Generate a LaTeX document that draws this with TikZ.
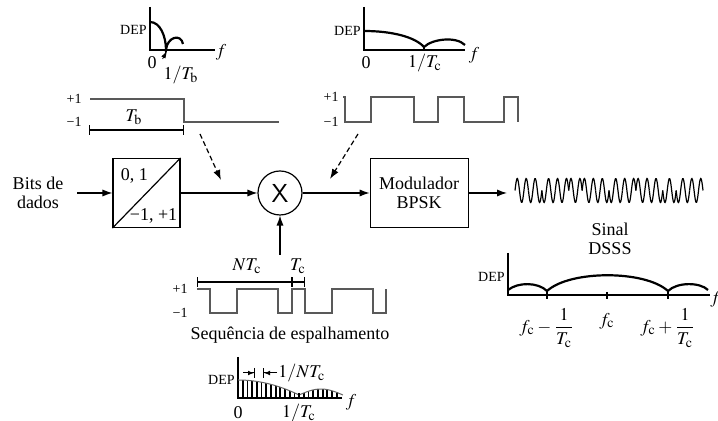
\documentclass[tikz,border=0pt]{standalone}
\usepackage{mathptmx}
\usepackage{fontspec}
\setmainfont{Liberation Serif}
\usetikzlibrary{arrows.meta, positioning}

\begin{document}
\begin{tikzpicture}[
    x=0.5pt, y=-0.5pt,
    font=\fontsize{9}{9.5}\selectfont,
    declare function={env(\t)=(\t<1) ? (3+15*(1-\t*\t)) : (3+6*sin(250*(\t-1)));},
    blk/.style={rectangle, draw, line width=0.6pt, minimum width=49pt,
                minimum height=34.5pt, align=center},
    arrow/.style={-{Latex[length=5pt,width=3.6pt]}, line width=0.6pt},
    dasharrow/.style={arrow, dash pattern=on 2.5pt off 1.5pt},
    tiparrow/.style={-{Latex[length=3pt,width=2.4pt]}, line width=0.4pt},
    gaparrow/.style={-{Latex[length=3pt,width=2.4pt]Bar[width=5pt]}, line width=0.5pt},
    axis/.style={line width=0.6pt},
    psd/.style={line width=1.1pt},
    wavef/.style={line width=0.6pt, black!65},
    brk/.style={{Bar[width=5pt]}-{Bar[width=5pt]}, line width=0.6pt},
    lvl/.style={anchor=east, font=\fontsize{7}{7}\selectfont, inner sep=1pt},
    dep/.style={anchor=east, font=\fontsize{7}{7}\selectfont, inner sep=1pt}
  ]
    \useasboundingbox (0,0) rectangle (718,421);

    % espectro dos bits
    \draw[axis] (150,7) -- (150,50) -- (215,50);
    \draw[psd] (150,22) .. controls (160,22) and (166,36) .. (166,50)
               .. controls (167,37) and (181,33) .. (183,44);
    \node[dep] (dep1) at (149,30) {DEP};
    \node (f1) at (221,52) {$f$};
    \node (zero1) at (152,63) {0};
    \node (tb1) at (181,75) {$1/T_\mathrm{b}$};
    \coordinate (tbcusp) at (166,52);
    \draw[tiparrow] ([xshift=3pt]tb1.north west) -- (tbcusp);

    % forma de onda dos bits
    \node[lvl] (p1a) at (84,99) {+1};
    \node[lvl] (m1a) at (84,122) {−1};
    \draw[wavef] (90,99) -- (184,99) -- (184,122) -- (279,122);
    \draw[brk] (89,130) -- (184,130);
    \node (tb) at (134,117) {$T_\mathrm{b}$};
    \coordinate (bd0) at (200,134);
    \coordinate (bd1) at (221,180);
    \draw[dasharrow] (bd0) -- (bd1);

    % espectro dos chips
    \draw[axis] (364,7) -- (364,50) -- (465,50);
    \draw[psd] (364,31) .. controls (392,31) and (415,37) .. (424,47)
               .. controls (432,39) and (456,36) .. (465,45);
    \draw[axis] (424,47) -- (424,50);
    \node[dep] (dep2) at (363,31) {DEP};
    \node (f2) at (474,55) {$f$};
    \node (zero2) at (366,63) {0};
    \node (tc2) at (425,63) {$1/T_\mathrm{c}$};

    % forma de onda dos chips
    \node[lvl] (p1b) at (341,97) {+1};
    \node[lvl] (m1b) at (341,122) {−1};
    \draw[wavef] (343,97) -- (345,97) |- (371,122) |- (414,97) |- (438,122)
                 |- (464,97) |- (504,122) |- (518,97) -- (518,122);
    \coordinate (cd0) at (358,134);
    \coordinate (cd1) at (330,179);
    \draw[dasharrow] (cd0) -- (cd1);

    % cadeia principal
    \node[align=center] (bits) at (38,193) {Bits de\\dados};
    \node[blk, minimum width=33.5pt] (map) at (146.5,193) {};
    \draw[line width=0.6pt] (map.south west) -- (map.north east);
    \node[anchor=north west, inner sep=0pt] (mapin) at ([xshift=4pt,yshift=-5pt]map.north west) {0, 1};
    \node[anchor=south east, inner sep=0pt] (mapout) at ([xshift=-1.5pt,yshift=2pt]map.south east) {−1, +1};
    \node[circle, draw, line width=0.6pt, minimum size=22pt, inner sep=0pt,
          font=\fontsize{13}{13}\selectfont\sffamily] (mult) at (280,193) {X};
    \node[blk, right=33.5pt of mult] (mod) {Modulador\\BPSK};
    \coordinate (wavein) at (507,193);
    \coordinate (seqtop) at (280,255);

    \draw[arrow, shorten <=3.5pt] (bits) -- (map);
    \draw[arrow] (map) -- (mult);
    \draw[arrow] (mult) -- (mod);
    \draw[arrow] (mod) -- (wavein);
    \draw[arrow] (seqtop) -- (mult);

    % sinal DSSS
    \foreach \s [count=\k from 0] in {1,-1,-1,1,1,1,-1,-1,1,1,-1,-1,-1,1}
      \draw[line width=0.6pt] plot[domain=0:13.43, samples=30, variable=\t]
        ({515+13.43*\k+\t}, {190.5-\s*12*sin(540*\t/13.43)});
    \node[align=center] (sinal) at (610,239) {Sinal\\DSSS};

    % sequencia de espalhamento
    \draw[brk] (197,282) -- (292,282);
    \draw[brk] (292,282) -- (305,282);
    \node (ntc) at (247,266) {$NT_\mathrm{c}$};
    \node (tc) at (298,266) {$T_\mathrm{c}$};
    \node[lvl] (p1c) at (190,289) {+1};
    \node[lvl] (m1c) at (190,313) {−1};
    \draw[wavef] (197,289) -- (210,289) |- (237,313) |- (278,289) |- (292,313)
                 |- (305,289) |- (332,313) |- (373,289) |- (386,313) -- (386,289);
    \node (seq) at (290,335) {Sequência de espalhamento};

    % espectro de linhas
    \draw[axis] (238,357) -- (238,398) -- (342,398);
    \foreach \i in {1,...,21}
      \draw[line width=0.9pt] ({238+4.7*\i},398) -- ({238+4.7*\i},{398-env(4.7*\i/61)});
    \draw[line width=0.5pt, black!60] plot[domain=0:1.72, samples=60, variable=\t]
      ({238+61*\t}, {398-env(\t)});
    \draw[axis] (299,393) -- (299,398);
    \draw[gaparrow] (243,373) -- (255,373);
    \draw[gaparrow] (277,373) -- (263,373);
    \node[anchor=west, inner sep=0.5pt] (ntcl) at (277,373) {$1/NT_\mathrm{c}$};
    \node[dep] (dep3) at (237,380) {DEP};
    \node (zero3) at (238,413) {0};
    \node (tc3) at (299,413) {$1/T_\mathrm{c}$};
    \node (f3) at (351,402) {$f$};

    % espectro DSSS
    \draw[axis] (508,253) -- (508,295) -- (710,295);
    \draw[psd] (508,290) .. controls (518,282) and (538,282) .. (547,291)
               .. controls (570,270) and (645,270) .. (668,291)
               .. controls (677,282) and (700,282) .. (708,290);
    \foreach \xx in {547,607,668}
      \draw[axis] (\xx,292) -- (\xx,299);
    \node[dep] (dep4) at (507,277) {DEP};
    \node[anchor=north] (fl) at (547,301) {$f_\mathrm{c}-\displaystyle\frac{1}{T_\mathrm{c}}$};
    \node[anchor=north] (fc) at (607,306) {$f_\mathrm{c}$};
    \node[anchor=north] (fr) at (668,301) {$f_\mathrm{c}+\displaystyle\frac{1}{T_\mathrm{c}}$};
    \node[anchor=west, inner sep=0.5pt] (f4) at (709,299) {$f$};
  \end{tikzpicture}
\end{document}
